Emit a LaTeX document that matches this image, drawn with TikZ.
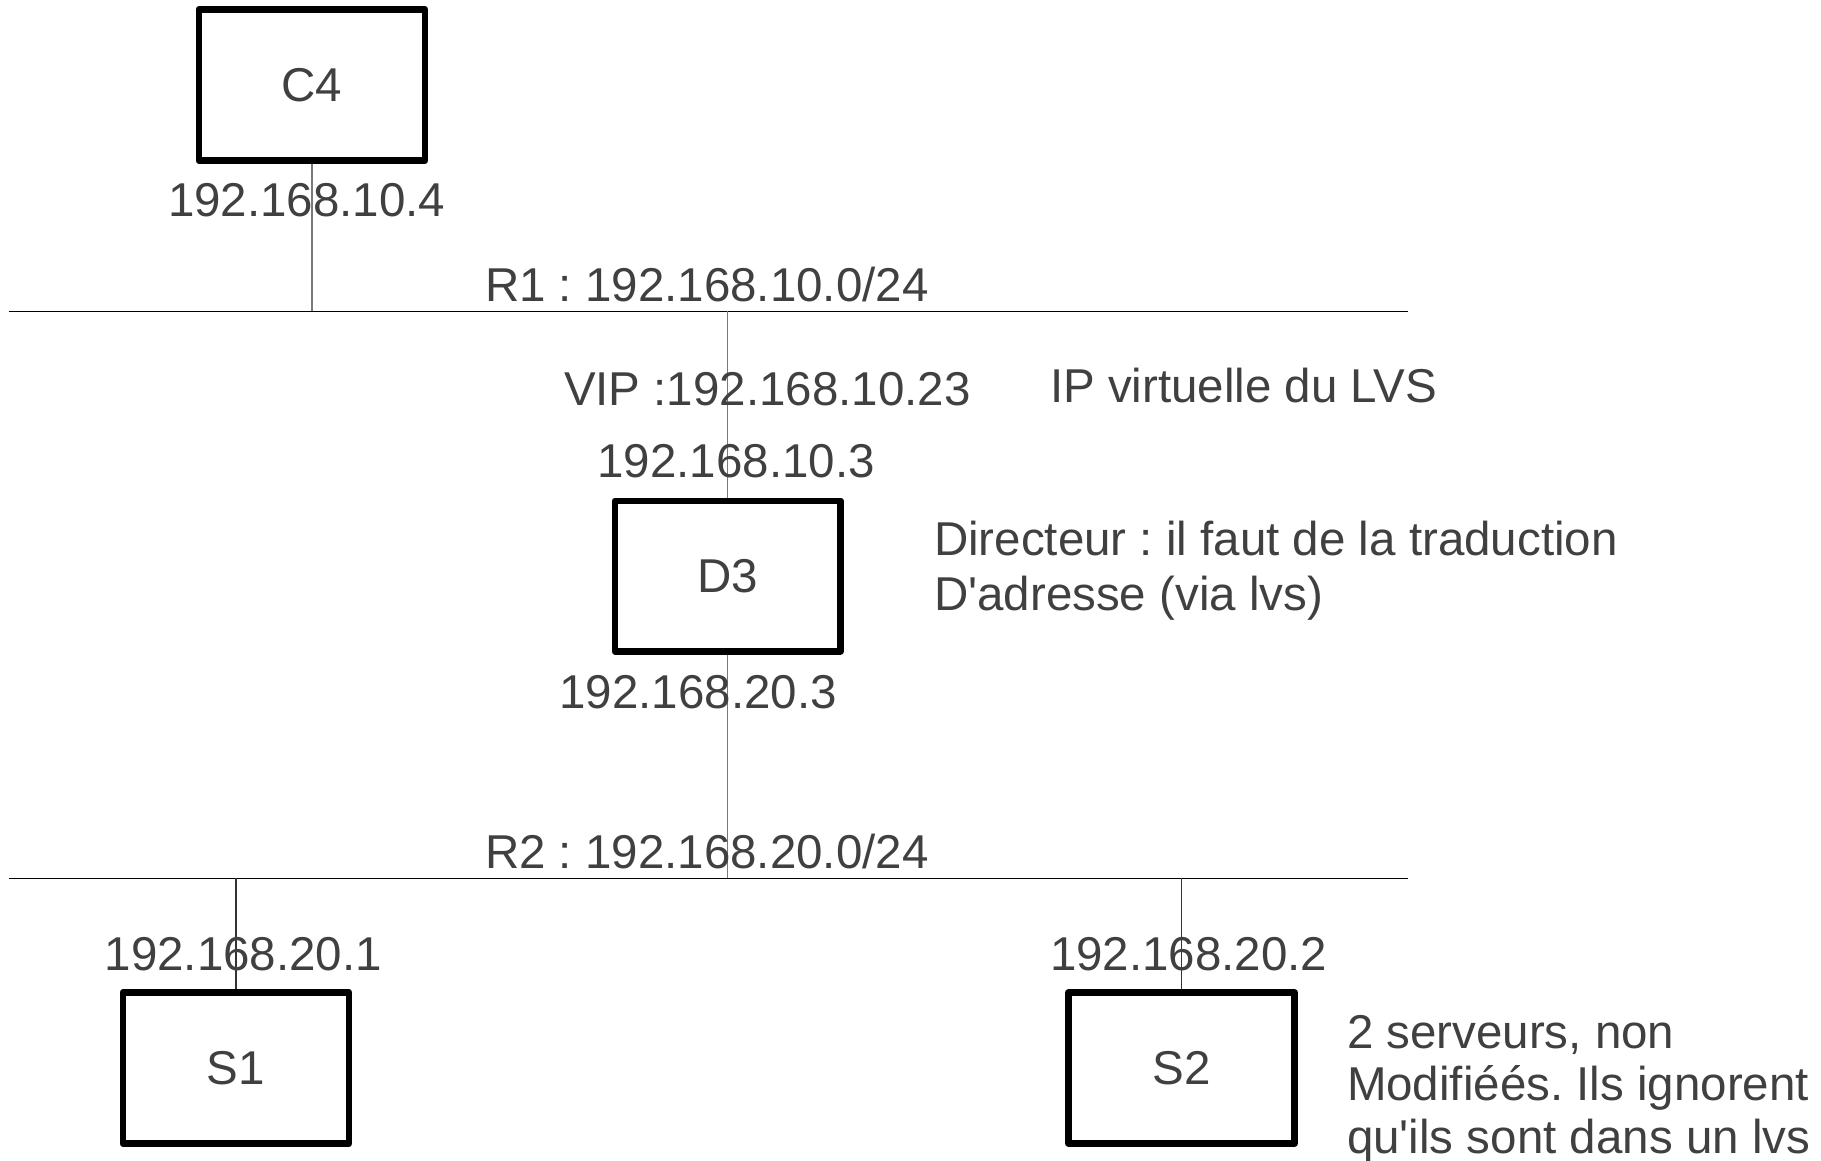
\documentclass[tikz,border=0pt]{standalone}
\usepackage{fontspec}
\setmainfont{Liberation Sans}[Ligatures=TeXOff]
\frenchspacing
\definecolor{txt}{HTML}{404040}
\definecolor{lgray}{HTML}{7A7A7A}
\definecolor{ldark}{HTML}{333333}
\begin{document}
\begin{tikzpicture}[x=1pt,y=-1pt,
  hostbox/.style={draw=black,line width=6.7pt,line join=round,fill=white,
    minimum width=226pt,minimum height=151pt,inner sep=0pt,outer sep=0pt,
    text=txt,font=\fontsize{47.5}{54}\selectfont},
  lbl/.style={anchor=base west,inner sep=0pt,outer sep=0pt,text=txt,
    font=\fontsize{47.5}{54}\selectfont\frenchspacing},
  net/.style={draw=black,line width=1.4pt},
  linkgray/.style={draw=lgray,line width=1.3pt},
  linkdark/.style={draw=ldark,line width=1.3pt}]
\useasboundingbox (0,0) rectangle (1821,1161);
% networks
\coordinate (r1l) at (9.3,311.3);
\coordinate (r1r) at (1408.3,311.3);
\coordinate (r2l) at (9.3,878.3);
\coordinate (r2r) at (1408.3,878.3);
\draw[net] (r1l) -- (r1r);
\draw[net] (r2l) -- (r2r);
% hosts (positions)
\coordinate (c4pos) at (312,85);
\coordinate (d3pos) at (727.7,576);
\coordinate (s1pos) at (236,1068);
\coordinate (s2pos) at (1181.5,1068);
% connectors drawn first, boxes on top
\draw[linkgray] (c4pos) -- (c4pos |- r1l);
\draw[linkgray] (d3pos |- r1l) -- (d3pos |- r2l);
\draw[linkdark] (s1pos |- r2l) -- (s1pos);
\draw[linkdark] (s2pos |- r2l) -- (s2pos);
\node[hostbox] (c4) at (c4pos) {C4};
\node[hostbox,minimum width=225.4pt,minimum height=150.3pt] (d3) at (d3pos) {D3};
\node[hostbox] (s1) at (s1pos) {S1};
\node[hostbox] (s2) at (s2pos) {S2};
% labels
\node[lbl] (ipc4) at (168,216.7) {192.168.10.4};
\node[lbl] (r1lbl) at (485,301.3) {R1 : 192.168.10.0/24};
\node[lbl] (vip) at (564,405) {VIP :192.168.10.23};
\node[lbl] (vipnote) at (1050,402) {IP virtuelle du LVS};
\node[lbl] (ipd3a) at (597.5,477.5) {192.168.10.3};
\node[lbl] (dir1) at (934,555) {Directeur : il faut de la traduction};
\node[lbl] (dir2) at (934,610) {D'adresse (via lvs)};
\node[lbl] (ipd3b) at (559.4,708.3) {192.168.20.3};
\node[lbl] (r2lbl) at (485,868.3) {R2 : 192.168.20.0/24};
\node[lbl] (ips1) at (104.6,970) {192.168.20.1};
\node[lbl] (ips2) at (1050,970) {192.168.20.2};
\node[lbl] (srv1) at (1347,1048) {2 serveurs, non};
\node[lbl] (srv2) at (1347,1100.5) {Modifiéés. Ils ignorent};
\node[lbl] (srv3) at (1347,1153) {qu'ils sont dans un lvs};
\end{tikzpicture}
\end{document}
